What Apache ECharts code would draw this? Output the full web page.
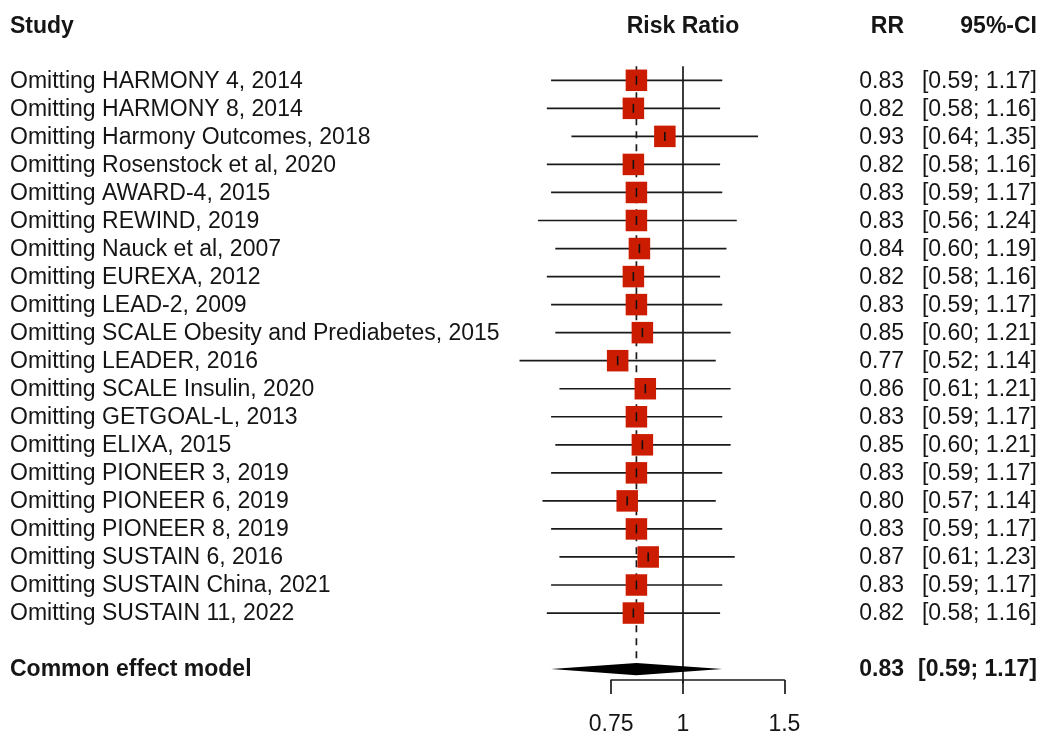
<!DOCTYPE html>
<html>
<head>
<meta charset="utf-8">
<script src="https://cdn.jsdelivr.net/npm/echarts@6/dist/echarts.min.js"></script>
<style>
html,body{margin:0;padding:0;background:#fff;}
#chart{width:1040px;height:736px;}
</style>
</head>
<body>
<div id="chart"></div>
<script>
// ---- data ----
const studies = [
  "Omitting HARMONY 4, 2014",
  "Omitting HARMONY 8, 2014",
  "Omitting Harmony Outcomes, 2018",
  "Omitting Rosenstock et al, 2020",
  "Omitting AWARD-4, 2015",
  "Omitting REWIND, 2019",
  "Omitting Nauck et al, 2007",
  "Omitting EUREXA, 2012",
  "Omitting LEAD-2, 2009",
  "Omitting SCALE Obesity and Prediabetes, 2015",
  "Omitting LEADER, 2016",
  "Omitting SCALE Insulin, 2020",
  "Omitting GETGOAL-L, 2013",
  "Omitting ELIXA, 2015",
  "Omitting PIONEER 3, 2019",
  "Omitting PIONEER 6, 2019",
  "Omitting PIONEER 8, 2019",
  "Omitting SUSTAIN 6, 2016",
  "Omitting SUSTAIN China, 2021",
  "Omitting SUSTAIN 11, 2022"
];
const rr    = [0.83,0.82,0.93,0.82,0.83,0.83,0.84,0.82,0.83,0.85,0.77,0.86,0.83,0.85,0.83,0.80,0.83,0.87,0.83,0.82];
const ciLow = [0.59,0.58,0.64,0.58,0.59,0.56,0.60,0.58,0.59,0.60,0.52,0.61,0.59,0.60,0.59,0.57,0.59,0.61,0.59,0.58];
const ciHigh= [1.17,1.16,1.35,1.16,1.17,1.24,1.19,1.16,1.17,1.21,1.14,1.21,1.17,1.21,1.17,1.14,1.17,1.23,1.17,1.16];
const summaryLabel = "Common effect model";
const summaryRR = 0.83, summaryLow = 0.59, summaryHigh = 1.17;
const headers = ["Study", "Risk Ratio", "RR", "95%-CI"];
const axisTicks = [0.75, 1, 1.5];
const nullValue = 1;

// ---- layout ----
const FONT = '"Liberation Sans", Arial, sans-serif';
const FS = 23;
const TXT = '#151515';
const ROW_SUM = studies.length + 1;      // summary row index
const ROW_HEAD = -1.92;
const PX_PER_LN = 250, X_NULL = 683;
const ln = Math.log;
const fmt = v => v.toFixed(2);
const ciText = (a, b) => '[' + fmt(a) + '; ' + fmt(b) + ']';

const rowData = studies.map((s, i) => [ln(ciLow[i]), ln(ciHigh[i]), ln(rr[i]), i]);
const textRows = studies.map((s, i) => [0, i]);

const chart = echarts.init(document.getElementById('chart'), null, {renderer: 'canvas'});

const option = {
  backgroundColor: '#ffffff',
  animation: false,
  grid: [
    {left: 0, width: 1040, top: 10.2, height: 715, containLabel: false},
    {left: X_NULL + PX_PER_LN * ln(axisTicks[0]), width: PX_PER_LN * (ln(axisTicks[2]) - ln(axisTicks[0])), top: 673, height: 10}
  ],
  xAxis: [
    {gridIndex: 0, type: 'value', min: -X_NULL / PX_PER_LN, max: (1040 - X_NULL) / PX_PER_LN, show: false},
    {gridIndex: 1, type: 'value', min: ln(axisTicks[0]), max: ln(axisTicks[2]), position: 'bottom',
      axisLine: {show: true, lineStyle: {color: '#1a1a1a', width: 1.7}},
      axisTick: {show: true, length: 14, customValues: axisTicks.map(ln), lineStyle: {color: '#1a1a1a', width: 1.7}},
      axisLabel: {show: true, customValues: axisTicks.map(ln), margin: 33, fontSize: FS, fontFamily: FONT, color: TXT,
        formatter: v => String(Number(Math.exp(v).toFixed(2)))},
      splitLine: {show: false}}
  ],
  yAxis: [
    {gridIndex: 0, type: 'value', inverse: true, min: -2.5, max: 23, show: false},
    {gridIndex: 1, type: 'value', show: false}
  ],
  series: [
    // reference lines
    {
      type: 'custom', xAxisIndex: 0, yAxisIndex: 0, z: 1, silent: true,
      data: [[ln(nullValue), ln(summaryRR)]],
      renderItem(params, api) {
        const top = api.coord([api.value(0), -0.5]);
        const bot = api.coord([api.value(0), ROW_SUM + 0.5]);
        const dTop = api.coord([api.value(1), -0.5]);
        const dBot = api.coord([api.value(1), ROW_SUM - 0.2]);
        return {type: 'group', children: [
          {type: 'line', shape: {x1: dTop[0], y1: dTop[1], x2: dBot[0], y2: dBot[1]},
            style: {stroke: '#1a1a1a', lineWidth: 1.7, lineDash: [7, 6]}},
          {type: 'line', shape: {x1: top[0], y1: top[1], x2: bot[0], y2: bot[1]},
            style: {stroke: '#1a1a1a', lineWidth: 1.7}}
        ]};
      }
    },
    // study rows: CI line, square, centre tick
    {
      type: 'custom', xAxisIndex: 0, yAxisIndex: 0, z: 2, silent: true,
      data: rowData,
      encode: {x: [0, 1, 2], y: 3},
      renderItem(params, api) {
        const i = api.value(3);
        const lo = api.coord([api.value(0), i]);
        const hi = api.coord([api.value(1), i]);
        const c = api.coord([api.value(2), i]);
        const s = 21.5;
        return {type: 'group', children: [
          {type: 'line', shape: {x1: lo[0], y1: lo[1], x2: hi[0], y2: hi[1]}, style: {stroke: '#1a1a1a', lineWidth: 1.7}},
          {type: 'rect', shape: {x: c[0] - s / 2, y: c[1] - s / 2, width: s, height: s}, style: {fill: '#cc1c00'}},
          {type: 'line', shape: {x1: c[0], y1: c[1] - 4.5, x2: c[0], y2: c[1] + 4.5}, style: {stroke: '#111', lineWidth: 1.6}}
        ]};
      }
    },
    // summary diamond
    {
      type: 'custom', xAxisIndex: 0, yAxisIndex: 0, z: 3, silent: true,
      data: [[ln(summaryLow), ln(summaryRR), ln(summaryHigh), ROW_SUM]],
      renderItem(params, api) {
        const y = api.value(3), h = 0.22;
        const p1 = api.coord([api.value(0), y]);
        const p2 = api.coord([api.value(1), y - h]);
        const p3 = api.coord([api.value(2), y]);
        const p4 = api.coord([api.value(1), y + h]);
        return {type: 'polygon', shape: {points: [p1, p2, p3, p4]}, style: {fill: '#000'}};
      }
    },
    // texts
    {
      type: 'custom', xAxisIndex: 0, yAxisIndex: 0, z: 4, silent: true,
      data: textRows,
      renderItem(params, api) {
        const i = api.value(1);
        const y = api.coord([0, i])[1] + 1;
        const st = (text, x, align) => ({type: 'text', x: x, y: y,
          style: {text: text, fill: TXT, font: FS + 'px ' + FONT, align: align, verticalAlign: 'middle'}});
        return {type: 'group', children: [
          st(studies[i], 10, 'left'),
          st(fmt(rr[i]), 904, 'right'),
          st(ciText(ciLow[i], ciHigh[i]), 1037, 'right')
        ]};
      }
    },
    // header + summary texts
    {
      type: 'custom', xAxisIndex: 0, yAxisIndex: 0, z: 4, silent: true,
      data: [[ln(nullValue), ROW_HEAD, ROW_SUM]],
      renderItem(params, api) {
        const h = api.coord([api.value(0), api.value(1)]);
        const sy = api.coord([0, api.value(2)])[1] + 1;
        const bold = 'bold ' + FS + 'px ' + FONT;
        const t = (text, x, y, align) => ({type: 'text', x: x, y: y,
          style: {text: text, fill: TXT, font: bold, align: align, verticalAlign: 'middle'}});
        return {type: 'group', children: [
          t(headers[0], 10, h[1], 'left'),
          t(headers[1], h[0], h[1], 'center'),
          t(headers[2], 904, h[1], 'right'),
          t(headers[3], 1037, h[1], 'right'),
          t(summaryLabel, 10, sy, 'left'),
          t(fmt(summaryRR), 904, sy, 'right'),
          t(ciText(summaryLow, summaryHigh), 1037, sy, 'right')
        ]};
      }
    }
  ]
};
chart.setOption(option);
</script>
</body>
</html>
